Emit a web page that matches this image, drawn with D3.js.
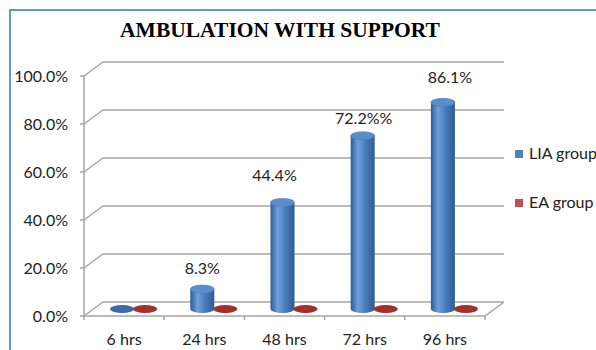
<!DOCTYPE html>
<html>
<head>
<meta charset="utf-8">
<script src="https://cdn.jsdelivr.net/npm/d3@7/dist/d3.min.js"></script>
<style>
  html, body { margin: 0; padding: 0; background: #fff; }
  svg { display: block; }
</style>
</head>
<body>
<svg id="chart" width="596" height="350"></svg>
<script>
// ---- data ----
const categories = ["6 hrs", "24 hrs", "48 hrs", "72 hrs", "96 hrs"];
const seriesNames = ["LIA group", "EA group"];
const liaValues = [0, 8.3, 44.4, 72.2, 86.1];
const eaValues = [0, 0, 0, 0, 0];
const liaLabels = ["", "8.3%", "44.4%", "72.2%%", "86.1%"];
const yTicks = [0, 20, 40, 60, 80, 100];
const yTickLabels = ["0.0%", "20.0%", "40.0%", "60.0%", "80.0%", "100.0%"];
const chartTitle = "AMBULATION WITH SUPPORT";

// ---- layout ----
const svg = d3.select("#chart");
const font = "Lato, 'Open Sans', sans-serif";
const frontLeft = 84, frontRight = 485;
const depthX = 19, depthY = -14;          // offset from front plane to back wall
const midX = depthX / 2, midY = depthY / 2; // bars stand halfway into the floor

const x = d3.scaleBand().domain(categories).range([frontLeft, frontRight]);
const y = d3.scaleLinear().domain([0, 100]).range([316, 76]);
const barW = 23;
const xs = d3.scaleBand().domain(seriesNames)
  .range([x.bandwidth() / 2 - barW, x.bandwidth() / 2 + barW]);
const rx = 12, ry = 4;

const colors = {
  "LIA group": { legend: "#4f81bd", dark: "#2f5b92", mid: "#4a7dbd", light: "#6f9fdc", top: "#5a8dcc", flat: "#3b6aa8" },
  "EA group":  { legend: "#c0504d", dark: "#8a2b29", mid: "#b8433f", light: "#d06a66", top: "#c0504d", flat: "#a3302d" }
};

// outer frame
svg.append("rect")
  .attr("x", 10).attr("y", 10).attr("width", 620).attr("height", 380)
  .attr("fill", "none").attr("stroke", "#5b9bd5").attr("stroke-width", 2);

// title
svg.append("text")
  .attr("x", 280).attr("y", 37)
  .attr("text-anchor", "middle")
  .attr("font-family", "'Liberation Serif', 'Times New Roman', serif")
  .attr("font-weight", "bold")
  .attr("font-size", 21.5)
  .attr("fill", "#000")
  .text(chartTitle);

// gradients for the cylinders
const defs = svg.append("defs");
seriesNames.forEach((s, i) => {
  const c = colors[s];
  const g = defs.append("linearGradient").attr("id", "cyl" + i)
    .attr("x1", "0%").attr("x2", "100%").attr("y1", "0%").attr("y2", "0%");
  g.append("stop").attr("offset", "0%").attr("stop-color", c.dark);
  g.append("stop").attr("offset", "30%").attr("stop-color", c.light);
  g.append("stop").attr("offset", "60%").attr("stop-color", c.mid);
  g.append("stop").attr("offset", "100%").attr("stop-color", c.dark);
});

// walls, gridlines and floor
const grid = svg.append("g")
  .attr("stroke", "#a6a6a6").attr("stroke-width", 1.5).attr("fill", "none");

yTicks.forEach(t => {
  const yf = y(t), yb = y(t) + depthY;
  // side wall diagonal + back wall gridline
  grid.append("path")
    .attr("d", `M${frontLeft},${yf}L${frontLeft + depthX},${yb}L${frontRight + depthX},${yb}`);
  // tick mark
  grid.append("line")
    .attr("x1", frontLeft - 4).attr("x2", frontLeft).attr("y1", yf).attr("y2", yf);
});
// front vertical axis
grid.append("line")
  .attr("x1", frontLeft).attr("x2", frontLeft)
  .attr("y1", y(100)).attr("y2", y(0));
// floor front edge and right edge
grid.append("path")
  .attr("d", `M${frontLeft},${y(0)}L${frontRight},${y(0)}L${frontRight + depthX},${y(0) + depthY}`);
// category ticks
const bounds = categories.map(c => x(c)).concat([frontRight]);
bounds.forEach(bx => {
  grid.append("line")
    .attr("x1", bx).attr("x2", bx).attr("y1", y(0)).attr("y2", y(0) + 4);
});

// y tick labels
svg.append("g").selectAll("text")
  .data(yTicks)
  .join("text")
  .attr("x", 68).attr("y", d => y(d) + 6)
  .attr("text-anchor", "end")
  .attr("font-family", font).attr("font-size", 16).attr("fill", "#222")
  .text((d, i) => yTickLabels[i]);

// category labels
svg.append("g").selectAll("text")
  .data(categories)
  .join("text")
  .attr("x", d => x(d) + x.bandwidth() / 2)
  .attr("y", 345)
  .attr("text-anchor", "middle")
  .attr("font-family", font).attr("font-size", 16).attr("fill", "#222")
  .text(d => d);

// cylinders
const barData = [];
categories.forEach((c, ci) => {
  barData.push({ cat: c, series: "LIA group", si: 0, value: liaValues[ci] });
  barData.push({ cat: c, series: "EA group", si: 1, value: eaValues[ci] });
});

const bars = svg.append("g");
barData.forEach(d => {
  const cx = x(d.cat) + xs(d.series) + barW / 2 + midX;
  const y0 = y(0) + midY;
  const y1 = y(d.value) + midY;
  const c = colors[d.series];
  if (d.value <= 0) {
    bars.append("ellipse")
      .attr("cx", cx).attr("cy", y0).attr("rx", rx).attr("ry", ry)
      .attr("fill", c.flat);
    return;
  }
  bars.append("path")
    .attr("d", `M${cx - rx},${y1}L${cx - rx},${y0}A${rx},${ry} 0 0 0 ${cx + rx},${y0}L${cx + rx},${y1}Z`)
    .attr("fill", `url(#cyl${d.si})`);
  bars.append("ellipse")
    .attr("cx", cx).attr("cy", y1).attr("rx", rx).attr("ry", ry)
    .attr("fill", c.top).attr("stroke", c.mid).attr("stroke-width", 0.6);
});

// value labels above the LIA cylinders
const labelNudge = [[0, 0], [0, 2], [-8, -4], [1, 5], [7, -2]];
svg.append("g").selectAll("text")
  .data(categories)
  .join("text")
  .attr("x", (c, i) => x(c) + xs("LIA group") + barW / 2 + midX + labelNudge[i][0])
  .attr("y", (c, i) => y(liaValues[i]) + midY - 17 + labelNudge[i][1])
  .attr("text-anchor", "middle")
  .attr("font-family", font).attr("font-size", 16).attr("fill", "#222")
  .text((c, i) => liaLabels[i]);

// legend
const legend = svg.append("g");
seriesNames.forEach((s, i) => {
  const ly = 150 + i * 49;
  legend.append("rect")
    .attr("x", 515).attr("y", ly).attr("width", 8).attr("height", 8)
    .attr("fill", colors[s].legend);
  legend.append("text")
    .attr("x", 529).attr("y", ly + 9)
    .attr("font-family", font).attr("font-size", 16).attr("fill", "#222")
    .text(s);
});
</script>
</body>
</html>
